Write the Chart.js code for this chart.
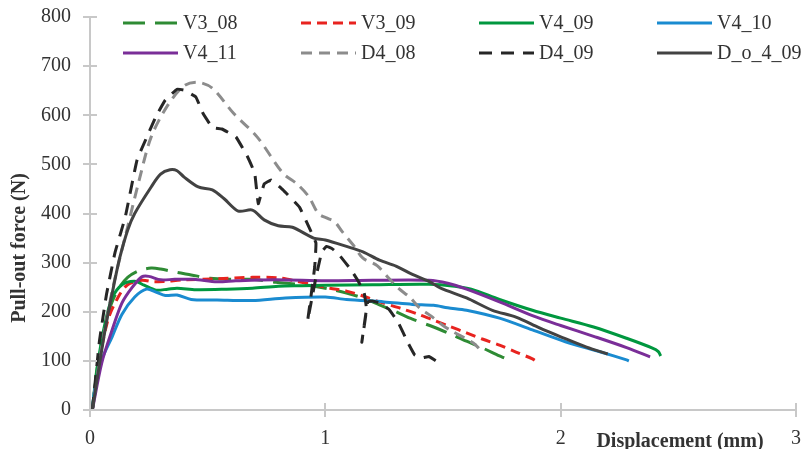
<!DOCTYPE html>
<html>
<head>
<meta charset="utf-8">
<script src="https://cdn.jsdelivr.net/npm/chart.js@4"></script>
<style>
html,body{margin:0;padding:0;background:#fff;}
#wrap{width:803px;height:449px;position:relative;}
</style>
</head>
<body>
<div id="wrap"><canvas id="c" width="803" height="449"></canvas></div>
<script>
// ---- data (displacement mm, force N) ----
const seriesNames = ['V3_08','V3_09','V4_09','V4_10','V4_11','D4_08','D4_09','D_o_4_09'];
const xTicks = [0,1,2,3];
const yTicks = [0,100,200,300,400,500,600,700,800];
const xTitle = 'Displacement (mm)';
const yTitle = 'Pull-out force (N)';

const V3_08 = [[0.01,0],[0.03,85],[0.064,169],[0.09,215],[0.12,246],[0.16,270],[0.21,284],[0.26,289],[0.30,287],[0.37,280],[0.43,275],[0.51,268],[0.60,266],[0.69,266],[0.79,260],[0.88,256],[0.95,252],[1.02,246],[1.09,238],[1.16,228],[1.23,214],[1.30,200],[1.37,185],[1.46,169],[1.52,157],[1.60,140],[1.66,128],[1.74,110],[1.76,106]];
const V3_09 = [[0.01,0],[0.03,75],[0.076,183],[0.12,230],[0.16,255],[0.22,264],[0.27,261],[0.32,262],[0.40,265],[0.54,267],[0.69,270],[0.80,269],[0.88,262],[0.95,255],[1.02,248],[1.09,242],[1.16,232],[1.23,220],[1.32,207],[1.40,194],[1.46,183],[1.53,170],[1.60,157],[1.67,144],[1.74,132],[1.81,118],[1.88,104],[1.90,98]];
const V4_09 = [[0.01,0],[0.034,96],[0.064,177],[0.094,228],[0.136,255],[0.19,262],[0.23,254],[0.28,244],[0.33,246],[0.37,248],[0.45,245],[0.58,246],[0.69,248],[0.80,252],[0.90,253],[1.0,254],[1.2,255],[1.44,256],[1.55,252],[1.62,246],[1.74,225],[1.88,203],[2.0,187],[2.14,169],[2.28,146],[2.39,126],[2.415,119],[2.425,110]];
const V4_10 = [[0.01,0],[0.02,41],[0.05,102],[0.094,149],[0.136,195],[0.19,230],[0.24,246],[0.28,240],[0.32,233],[0.37,234],[0.43,225],[0.54,224],[0.69,223],[0.83,228],[1.0,230],[1.09,225],[1.25,220],[1.37,215],[1.46,213],[1.52,208],[1.60,203],[1.74,187],[1.88,163],[2.02,139],[2.17,118],[2.28,102],[2.29,100]];
const V4_11 = [[0.01,0],[0.05,96],[0.094,163],[0.136,218],[0.18,250],[0.22,271],[0.25,272],[0.30,265],[0.36,266],[0.44,266],[0.54,261],[0.62,263],[0.79,265],[1.0,263],[1.2,264],[1.44,264],[1.52,258],[1.60,246],[1.74,220],[1.88,192],[2.0,172],[2.14,150],[2.28,127],[2.38,108]];
const D4_08 = [[0.01,0],[0.05,130],[0.10,255],[0.16,373],[0.21,470],[0.26,556],[0.33,620],[0.40,660],[0.46,667],[0.52,655],[0.61,604],[0.71,556],[0.82,482],[0.88,460],[0.93,434],[0.97,400],[1.01,390],[1.04,383],[1.07,364],[1.12,335],[1.16,309],[1.22,294],[1.27,268],[1.31,248],[1.36,229],[1.40,208],[1.45,191],[1.50,172],[1.54,160],[1.63,136],[1.67,116]];
const D4_09 = [[0.01,0],[0.04,140],[0.07,235],[0.106,320],[0.15,393],[0.20,509],[0.28,597],[0.32,631],[0.37,653],[0.40,651],[0.45,637],[0.48,604],[0.52,575],[0.56,572],[0.62,556],[0.67,515],[0.70,482],[0.715,420],[0.74,460],[0.77,468],[0.82,448],[0.89,413],[0.93,373],[0.96,340],[0.955,292],[0.94,235],[0.925,182],[0.96,270],[0.985,322],[1.005,333],[1.03,328],[1.06,315],[1.11,285],[1.14,262],[1.165,238],[1.175,205],[1.155,138],[1.18,220],[1.20,222],[1.23,218],[1.27,205],[1.31,178],[1.35,138],[1.38,112],[1.41,106],[1.44,109],[1.47,100]];
const D_o_4_09 = [[0.01,0],[0.064,163],[0.106,265],[0.127,311],[0.16,366],[0.19,400],[0.26,454],[0.30,480],[0.34,489],[0.37,487],[0.40,474],[0.46,454],[0.52,448],[0.57,430],[0.63,405],[0.69,407],[0.74,387],[0.80,375],[0.86,372],[0.95,350],[1.0,346],[1.09,333],[1.16,322],[1.23,305],[1.30,293],[1.37,276],[1.44,262],[1.49,248],[1.60,228],[1.71,203],[1.81,189],[1.91,167],[2.0,149],[2.11,128],[2.20,114]];

const seriesData = [V3_08, V3_09, V4_09, V4_10, V4_11, D4_08, D4_09, D_o_4_09];
const seriesColors = ['#2e8b34','#e8231f','#00973f','#1a8bd0','#7a2e98','#8c8c8c','#262626','#424242'];
const seriesDash = [[22,10],[10,6],[],[],[],[11,7],[13,9],[]];
const seriesTension = [0.3,0.3,0.3,0.3,0.3,0.3,0.08,0.3];

const FONT = '"Liberation Serif", "Times New Roman", serif';
const TEXT = '#333333';
const AXIS = '#c8c8c8';
const target = { left: 90, right: 796, top: 17, bottom: 410 };

const datasets = seriesNames.map((n,i)=>({
  label: n,
  data: seriesData[i].map(p=>({x:p[0], y:p[1]})),
  borderColor: seriesColors[i],
  backgroundColor: seriesColors[i],
  borderDash: seriesDash[i],
  borderWidth: 3,
  pointRadius: 0,
  fill: false,
  showLine: true,
  tension: seriesTension[i],
  borderCapStyle: 'butt',
  order: seriesNames.length - i
}));

const decor = {
  id: 'decor',
  afterDraw(chart){
    const ctx = chart.ctx;
    const xs = chart.scales.x, ys = chart.scales.y;
    const ca = chart.chartArea;
    ctx.save();
    ctx.strokeStyle = AXIS; ctx.lineWidth = 2; ctx.setLineDash([]);
    ctx.beginPath();
    yTicks.forEach(v=>{ const py = Math.round(ys.getPixelForValue(v)); ctx.moveTo(ca.left, py); ctx.lineTo(ca.left+7, py); });
    xTicks.forEach(v=>{ if(v===0) return; const px = Math.round(xs.getPixelForValue(v)); ctx.moveTo(px, ca.bottom); ctx.lineTo(px, ca.bottom-7); });
    ctx.stroke();
    ctx.fillStyle = TEXT;
    ctx.font = 'bold 20px ' + FONT;
    ctx.textAlign = 'center'; ctx.textBaseline = 'alphabetic';
    ctx.fillText(xTitle, 680, 447);
    ctx.save();
    ctx.translate(25, 248);
    ctx.rotate(-Math.PI/2);
    ctx.fillText(yTitle, 0, 0);
    ctx.restore();
    ctx.font = '20px ' + FONT;
    ctx.textAlign = 'left'; ctx.textBaseline = 'middle';
    chart.data.datasets.forEach((ds,i)=>{
      const col = i % 4, row = Math.floor(i/4);
      const x0 = 123 + col*178, y0 = 23 + row*30;
      ctx.strokeStyle = ds.borderColor; ctx.lineWidth = 3;
      ctx.setLineDash(ds.borderDash);
      ctx.beginPath(); ctx.moveTo(x0, y0); ctx.lineTo(x0+55, y0); ctx.stroke();
      ctx.setLineDash([]);
      ctx.fillStyle = TEXT;
      ctx.fillText(ds.label, x0+60, y0+1);
    });
    ctx.restore();
  }
};

function noPad(s){ s.paddingTop = 0; s.paddingBottom = 0; s.paddingLeft = 0; s.paddingRight = 0; }

const pad = { top: 17, right: 7, left: 0, bottom: 3 };
const chart = new Chart(document.getElementById('c'), {
  type: 'scatter',
  data: { datasets },
  options: {
    responsive: false,
    animation: false,
    layout: { padding: pad },
    plugins: { legend: { display: false }, tooltip: { enabled: false } },
    scales: {
      x: {
        type: 'linear', min: 0, max: 3,
        afterBuildTicks: s => { s.ticks = xTicks.map(v=>({value:v})); },
        afterFit: s => { s.height = 36; noPad(s); },
        border: { color: AXIS, width: 2 },
        grid: { drawOnChartArea: false, drawTicks: true, tickLength: 7, color: AXIS, lineWidth: 2 },
        ticks: { color: TEXT, font: { family: FONT, size: 20 }, padding: 10, maxRotation: 0 }
      },
      y: {
        type: 'linear', min: 0, max: 800,
        afterBuildTicks: s => { s.ticks = yTicks.map(v=>({value:v})); },
        afterFit: s => { s.width = 90; noPad(s); },
        border: { color: AXIS, width: 2 },
        grid: { drawOnChartArea: false, drawTicks: true, tickLength: 7, color: AXIS, lineWidth: 2 },
        ticks: { color: TEXT, font: { family: FONT, size: 20 }, padding: 12 }
      }
    }
  },
  plugins: [decor]
});
for (let k = 0; k < 3; k++) {
  const ca = chart.chartArea;
  const dt = target.top - ca.top, dr = ca.right - target.right, db = ca.bottom - target.bottom, dl = target.left - ca.left;
  if (!dt && !dr && !db && !dl) break;
  pad.top = Math.max(0, pad.top + dt);
  pad.right = Math.max(0, pad.right + dr);
  pad.bottom = Math.max(0, pad.bottom + db);
  pad.left = Math.max(0, pad.left + dl);
  chart.options.layout.padding = { ...pad };
  chart.update();
}
</script>
</body>
</html>
